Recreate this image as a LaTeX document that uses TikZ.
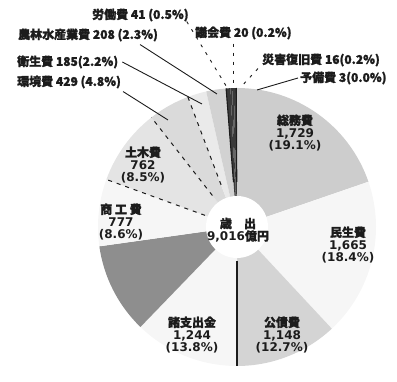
\documentclass[tikz,border=0pt]{standalone}
\usepackage{fontspec}
\setmainfont{DejaVu Sans}
\newfontfamily\cjk{Noto Sans CJK JP}[FakeBold=1.6]
\definecolor{ink}{HTML}{1C1C1C}
\definecolor{gA}{HTML}{CDCDCD}
\definecolor{gB}{HTML}{F6F6F6}
\definecolor{gC}{HTML}{D4D4D4}
\definecolor{gD}{HTML}{8E8E8E}
\definecolor{gE}{HTML}{E4E4E4}
\definecolor{gF}{HTML}{DADADA}
\definecolor{gG}{HTML}{EAEAEA}
\definecolor{gH}{HTML}{D2D2D2}
\definecolor{gK}{HTML}{3A3A3A}
\begin{document}
\begin{tikzpicture}[x=1pt,y=1pt,
  lbl/.style={font=\bfseries\fontsize{12}{12.5}\selectfont, text=ink, inner sep=0pt},
  inlbl/.style={lbl, align=center},
  leader/.style={draw=ink, line width=0.9pt},
  dotleader/.style={leader, dash pattern=on 3pt off 6pt},
  edge/.style={draw=ink, line width=1.1pt},
  dashedge/.style={draw=ink, line width=1pt, dash pattern=on 4pt off 5pt}]
\useasboundingbox (0,0) rectangle (397,382);
\def\R{139}
\coordinate (C) at (237,155);
% slices (clockwise from top)
\foreach \a/\b/\c in {90.3/19/gA, 19/-47/gB, -47/-90/gC, -90/-134/gB, -134/-172/gD,
  -172/-200/gB, 160/128/gE, 128/110.7/gF, 110.7/102.8/gG, 102.8/94.5/gH,
  94.5/92.7/gK, 92.7/92.0/gK, 92.0/91.3/gK, 91.3/90.3/gK}
  \fill[\c] (C) -- +(\a:\R) arc[start angle=\a, end angle=\b, radius=\R] -- cycle;
% boundaries
\draw[edge] ([shift={(-90:34)}]C) -- +(-90:105);
\draw[dashedge] ([shift={(160:34)}]C) -- +(160:105);
\draw[dashedge] ([shift={(128:40)}]C) -- +(128:99);
\draw[dashedge] ([shift={(110.7:45)}]C) -- +(110.7:94);
\draw[edge] ([shift={(94.5:45)}]C) -- +(94.5:94);
\draw[edge] ([shift={(90.3:45)}]C) -- +(90.3:94);
\fill[white] (C) circle[radius=31];
% centre label
\node[inlbl] (total) at (238,152) {\cjk{歳　出}\\9,016\cjk{億円}};
% inside labels
\node[inlbl] (somu) at (295,249) {\cjk{総務費}\\1,729\\(19.1\%)};
\node[inlbl] (minsei) at (348,137) {\cjk{民生費}\\1,665\\(18.4\%)};
\node[inlbl] (kosai) at (282,47) {\cjk{公債費}\\1,148\\(12.7\%)};
\node[inlbl] (shoshi) at (192,47) {\cjk{諸支出金}\\1,244\\(13.8\%)};
\node[inlbl] (shoko) at (121,160) {\cjk{商 工 費}\\777\\(8.6\%)};
\node[inlbl] (doboku) at (143,217) {\cjk{土木費}\\762\\(8.5\%)};
% outside labels
\node[lbl, anchor=west] (rodo) at (92,367) {\cjk{労働費} 41 (0.5\%)};
\node[lbl, anchor=west] (norin) at (18,347) {\cjk{農林水産業費} 208 (2.3\%)};
\node[lbl, anchor=west] (eisei) at (17,320) {\cjk{衛生費} 185(2.2\%)};
\node[lbl, anchor=west] (kankyo) at (17,300) {\cjk{環境費} 429 (4.8\%)};
\node[lbl, anchor=west] (gikai) at (195,349) {\cjk{議会費} 20 (0.2\%)};
\node[lbl, anchor=west] (saigai) at (262,322) {\cjk{災害復旧費} 16(0.2\%)};
\node[lbl, anchor=west] (yobi) at (300,304) {\cjk{予備費} 3(0.0\%)};
% leader end points
\coordinate (pRodo) at (228,293);
\coordinate (pNorin) at (217,288);
\coordinate (pEisei) at (202,278);
\coordinate (pKankyo) at (168,262);
\coordinate (pGikai) at (233,295);
\coordinate (pSaigai) at (240,294);
\coordinate (pYobi) at (257,292);
% leaders
\draw[dotleader] ([xshift=-2pt]rodo.south east) -- (pRodo);
\draw[leader] ([xshift=-18pt,yshift=-3pt]norin.south east) -- (pNorin);
\draw[leader] ([xshift=4pt]eisei.east) -- (pEisei);
\draw[leader] ([shift={(2pt,-3pt)}]kankyo.south east) -- (pKankyo);
\draw[dotleader] ([yshift=-4pt]gikai.south -| pGikai) -- (pGikai);
\draw[dotleader] ([shift={(-4pt,-2pt)}]saigai.south west) -- (pSaigai);
\draw[leader] ([xshift=-2pt]yobi.west) -- (pYobi);
\end{tikzpicture}
\end{document}
